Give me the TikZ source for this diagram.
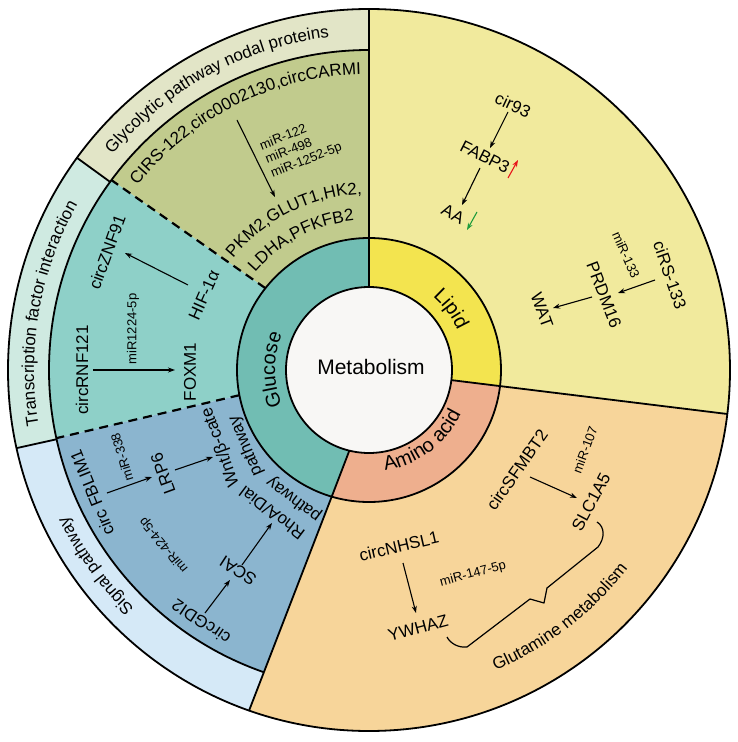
\documentclass[tikz,border=0pt]{standalone}
\usepackage{fontspec}
\setmainfont{Liberation Sans}
\usetikzlibrary{arrows.meta,decorations.text}
\definecolor{bandG}{HTML}{E2E5C7}
\definecolor{secG}{HTML}{C1CB8D}
\definecolor{bandT}{HTML}{CFEAE1}
\definecolor{secT}{HTML}{8ED0C8}
\definecolor{bandS}{HTML}{D5E9F7}
\definecolor{secS}{HTML}{8BB5CF}
\definecolor{ringG}{HTML}{71BDB3}
\definecolor{ringL}{HTML}{F3E44F}
\definecolor{secL}{HTML}{F1EA9D}
\definecolor{ringA}{HTML}{EEAF8E}
\definecolor{secA}{HTML}{F7D59A}
\definecolor{core}{HTML}{F8F7F5}
\definecolor{upred}{HTML}{E8141B}
\definecolor{downgreen}{HTML}{1E9B3C}
\newcommand{\ArcTxt}[5]{\path[decorate,decoration={text along path,text align=center,text={|\fontsize{#4}{#4}\selectfont|#5}}] (#2:#1pt) arc[start angle=#2,end angle=#3,radius=#1pt];}
\begin{document}
\begin{tikzpicture}[x=1pt,y=1pt,
  edge/.style={line width=1.8pt,line join=round},
  dashedge/.style={line width=2.2pt,dash pattern=on 9pt off 6pt},
  con/.style={line width=1.1pt,-{Stealth[length=7pt,width=5pt]}},
  lbl/.style={font=\fontsize{17}{20}\selectfont,inner sep=0pt},
  sml/.style={font=\fontsize{13}{15}\selectfont,inner sep=0pt}]
\useasboundingbox (-369,-372) rectangle (369,370);
\fill[white] (-369,-372) rectangle (369,370);
% bands
\fill[bandG] (90:320pt) -- (90:361pt) arc[start angle=90,end angle=144,radius=361pt] -- (144:320pt) arc[start angle=144,end angle=90,radius=320pt] -- cycle;
\fill[bandT] (144:320pt) -- (144:361pt) arc[start angle=144,end angle=192.5,radius=361pt] -- (192.5:320pt) arc[start angle=192.5,end angle=144,radius=320pt] -- cycle;
\fill[bandS] (192.5:320pt) -- (192.5:361pt) arc[start angle=192.5,end angle=250.6,radius=361pt] -- (250.8:320pt) arc[start angle=250.8,end angle=192.5,radius=320pt] -- cycle;
% sectors
\fill[secG] (90:132pt) -- (90:320pt) arc[start angle=90,end angle=143.6,radius=320pt] -- (141.7:132pt) arc[start angle=141.7,end angle=90,radius=132pt] -- cycle;
\fill[secT] (141.7:132pt) -- (143.6:320pt) arc[start angle=143.6,end angle=192.3,radius=320pt] -- (191:132pt) arc[start angle=191,end angle=141.7,radius=132pt] -- cycle;
\fill[secS] (191:132pt) -- (192.3:320pt) arc[start angle=192.3,end angle=250.8,radius=320pt] -- (253.6:132pt) arc[start angle=253.6,end angle=191,radius=132pt] -- cycle;
\fill[secL] (90:132pt) -- (90:361pt) arc[start angle=90,end angle=-7,radius=361pt] -- (-7:132pt) arc[start angle=-7,end angle=90,radius=132pt] -- cycle;
\fill[secA] (-7:132pt) -- (-7:361pt) arc[start angle=-7,end angle=-109.4,radius=361pt] -- (-106.4:132pt) arc[start angle=-106.4,end angle=-7,radius=132pt] -- cycle;
% inner ring
\fill[ringL] (90:83pt) -- (90:132pt) arc[start angle=90,end angle=-7,radius=132pt] -- (-7:83pt) arc[start angle=-7,end angle=90,radius=83pt] -- cycle;
\fill[ringA] (-7:83pt) -- (-7:132pt) arc[start angle=-7,end angle=-106.4,radius=132pt] -- (-103.7:83pt) arc[start angle=-103.7,end angle=-7,radius=83pt] -- cycle;
\fill[ringG] (90:83pt) -- (90:132pt) arc[start angle=90,end angle=253.6,radius=132pt] -- (256.3:83pt) arc[start angle=256.3,end angle=90,radius=83pt] -- cycle;
\fill[core] (0,0) circle[radius=83pt];
% outlines
\draw[edge] (0,0) circle[radius=83pt];
\draw[edge] (0,0) circle[radius=132pt];
\draw[edge] (0,0) circle[radius=361pt];
\draw[edge] (90:320pt) arc[start angle=90,end angle=250.8,radius=320pt];
\draw[edge] (90:83pt) -- (90:361pt);
\draw[edge] (-7:83pt) -- (-7:361pt);
\draw[edge] (-103.7:83pt) -- (-106.4:132pt) -- (-109.4:361pt);
\draw[edge] (144:320pt) -- (144:361pt);
\draw[edge] (192.5:320pt) -- (192.5:361pt);
\draw[dashedge] (141.7:132pt) -- (143.6:320pt);
\draw[dashedge] (191:132pt) -- (192.3:320pt);
% curved labels
\ArcTxt{335}{148.4}{88.4}{17}{Glycolytic pathway nodal proteins}
\ArcTxt{335}{200}{140}{17}{Transcription factor interaction}
\ArcTxt{335}{245.6}{185.6}{17}{Signal pathway}
\ArcTxt{296}{146.5}{86.5}{17}{CIRS-122,circ0002130,circCARMI}
\ArcTxt{176}{146.4}{86.4}{17}{PKM2,GLUT1,HK2,}
\ArcTxt{150}{147.5}{87.5}{17}{LDHA,PFKFB2}
\ArcTxt{94}{210}{150}{20}{Glucose}
\ArcTxt{97}{66.4}{6.4}{20}{Lipid}
\ArcTxt{102}{-83.2}{-23.2}{20}{Amino acid}
\ArcTxt{326}{-82.3}{-22.3}{17}{Glutamine metabolism}
% centre
\node[inner sep=0pt,font=\fontsize{21}{24}\selectfont] (met) at (2,3) {Metabolism};
% glycolytic sector
\node[sml,rotate=21.6,align=left] (mirg) at (-68,223) {miR-122\\miR-498\\miR-1252-5p};
\coordinate (g1) at (-132,250); \coordinate (g2) at (-94,173);
\draw[con] (g1) -- (g2);
% transcription sector
\node[lbl,rotate=70] (znf) at (-262,118) {circZNF91};
\node[lbl,rotate=66] (hif) at (-165,75) {HIF-1α};
\node[lbl,rotate=90] (rnf) at (-287,0) {circRNF121};
\node[sml,rotate=90] (mir1224) at (-236,41) {miR1224-5p};
\node[lbl,rotate=90] (foxm) at (-179,-2) {FOXM1};
\coordinate (h1) at (-181,85); \coordinate (h2) at (-244,117);
\draw[con] (h1) -- (h2);
\coordinate (r1) at (-276,0); \coordinate (r2) at (-194,0);
\draw[con] (r1) -- (r2);
% signal sector
\node[lbl,rotate=112] (fblim) at (-277,-123) {circ FBLIM1};
\node[sml,rotate=107] (mir338) at (-247,-87) {miR-338};
\node[lbl,rotate=110] (lrp) at (-206,-104) {LRP6};
\node[lbl,rotate=110] (wnt) at (-148,-77) {Wnt/β-cate};
\node[lbl,rotate=113] (wntp) at (-123,-76) {pathway};
\node[lbl,rotate=143] (rho) at (-97,-143) {RhoA/Dial};
\node[lbl,rotate=143] (rhop) at (-75,-129) {pathway};
\node[sml,rotate=130] (mir424) at (-205,-175) {miR-424-5p};
\node[lbl,rotate=147] (scai) at (-131,-201) {SCAI};
\node[lbl,rotate=146] (gdi) at (-168,-252) {circGDI2};
\coordinate (f1) at (-262,-123); \coordinate (f2) at (-217,-107);
\draw[con] (f1) -- (f2);
\coordinate (l1) at (-194,-100); \coordinate (l2) at (-156,-87);
\draw[con] (l1) -- (l2);
\coordinate (d1) at (-164,-243); \coordinate (d2) at (-139,-210);
\draw[con] (d1) -- (d2);
\coordinate (s1) at (-127,-195); \coordinate (s2) at (-97,-153);
\draw[con] (s1) -- (s2);
% lipid sector
\node[lbl,rotate=-25] (cir93) at (144,265) {cir93};
\node[lbl,rotate=-27] (fabp) at (116,213) {FABP3};
\node[lbl,rotate=-28] (aa) at (84,156) {AA};
\node[lbl,rotate=-71] (cirs) at (301,95) {ciRS-133};
\node[sml,rotate=-66] (mir133) at (257,115) {miR-133};
\node[lbl,rotate=-69] (prdm) at (235,75) {PRDM16};
\node[lbl,rotate=-70] (wat) at (173,60) {WAT};
\coordinate (c1) at (139,258); \coordinate (c2) at (121,222);
\draw[con] (c1) -- (c2);
\coordinate (b1) at (111,202); \coordinate (b2) at (93,165);
\draw[con] (b1) -- (b2);
\coordinate (u1) at (139,192); \coordinate (u2) at (149,210);
\draw[con,upred] (u1) -- (u2);
\coordinate (v1) at (108,158); \coordinate (v2) at (98,140);
\draw[con,downgreen] (v1) -- (v2);
\coordinate (k1) at (286,90); \coordinate (k2) at (249,77);
\draw[con] (k1) -- (k2);
\coordinate (p1) at (223,73); \coordinate (p2) at (184,62);
\draw[con] (p1) -- (p2);
% amino acid sector
\node[lbl,rotate=55] (sfm) at (148,-100) {circSFMBT2};
\node[sml,rotate=70] (mir107) at (216,-80) {miR-107};
\node[lbl,rotate=62] (slc) at (222,-132) {SLC1A5};
\node[lbl,rotate=13] (nhsl) at (30,-176) {circNHSL1};
\node[sml,rotate=15] (mir147) at (104,-204) {miR-147-5p};
\node[lbl,rotate=15] (ywhaz) at (49,-258) {YWHAZ};
\coordinate (m1) at (161,-107); \coordinate (m2) at (208,-128);
\draw[con] (m1) -- (m2);
\coordinate (n1) at (34,-193); \coordinate (n2) at (47,-243);
\draw[con] (n1) -- (n2);
\coordinate (br1) at (78,-267); \coordinate (br2) at (228,-152);
\draw[line width=1.2pt,line join=round] (br1) .. controls (81,-273) and (89,-278) .. (98,-277) -- (161,-229) -- (175,-233) -- (178,-218) -- (229,-177) .. controls (236,-168) and (236,-157) .. (br2);
\end{tikzpicture}
\end{document}
